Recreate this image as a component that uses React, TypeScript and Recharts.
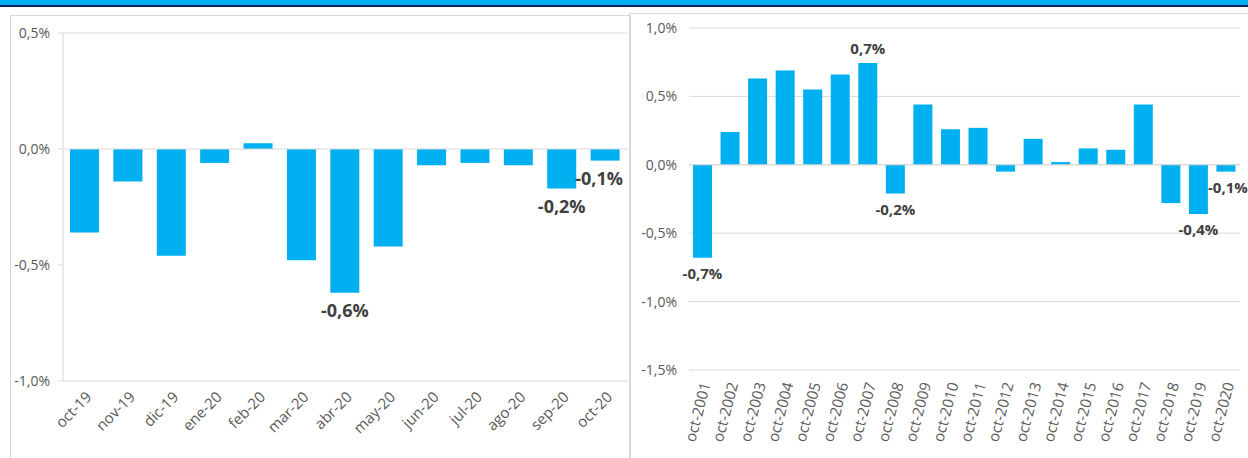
import React from 'react';
import { BarChart, Bar, XAxis, YAxis, CartesianGrid, ReferenceLine, LabelList } from 'recharts';

// Monthly variation, last 13 months
const monthCategories = ['oct-19', 'nov-19', 'dic-19', 'ene-20', 'feb-20', 'mar-20', 'abr-20', 'may-20', 'jun-20', 'jul-20', 'ago-20', 'sep-20', 'oct-20'];
const monthValues = [-0.36, -0.14, -0.46, -0.06, 0.025, -0.48, -0.62, -0.42, -0.07, -0.06, -0.07, -0.17, -0.05];
const monthLabels = ['', '', '', '', '', '', '-0,6%', '', '', '', '', '-0,2%', '-0,1%'];
const monthTicks = [-1, -0.5, 0, 0.5];

// October of each year
const yearCategories = ['oct-2001', 'oct-2002', 'oct-2003', 'oct-2004', 'oct-2005', 'oct-2006', 'oct-2007', 'oct-2008', 'oct-2009', 'oct-2010', 'oct-2011', 'oct-2012', 'oct-2013', 'oct-2014', 'oct-2015', 'oct-2016', 'oct-2017', 'oct-2018', 'oct-2019', 'oct-2020'];
const yearValues = [-0.68, 0.24, 0.63, 0.69, 0.55, 0.66, 0.745, -0.21, 0.44, 0.26, 0.27, -0.05, 0.19, 0.02, 0.12, 0.11, 0.44, -0.28, -0.36, -0.05];
const yearLabels = ['-0,7%', '', '', '', '', '', '0,7%', '-0,2%', '', '', '', '', '', '', '', '', '', '', '-0,4%', '-0,1%'];
const yearTicks = [-1.5, -1, -0.5, 0, 0.5, 1];

const monthData = monthCategories.map((c, i) => ({ cat: c, value: monthValues[i], label: monthLabels[i] }));
const yearData = yearCategories.map((c, i) => ({ cat: c, value: yearValues[i], label: yearLabels[i] }));

const BAR = '#00B0F0';
const GRID = '#d9d9d9';
const TEXT = '#595959';
const LABEL = '#404040';
const FONT = '"Open Sans", sans-serif';

const pct = (v: number) => v.toFixed(1).replace('.', ',') + '%';

const makeLabel = (fontSize: number, below: number, above: number, lastShift: number, lastIndex: number) => (props: any) => {
    const { x, y, width, height, index } = props;
    const text = props.value;
    if (!text) return null;
    const top = Math.min(y, y + height);
    const bottom = Math.max(y, y + height);
    const negative = text.startsWith('-');
    const cx = x + width / 2 + (index === lastIndex ? lastShift : 0);
    const cy = negative ? bottom + below : top - above;
    return (
        <text x={cx} y={cy} dy="0.35em" textAnchor="middle" fill={LABEL} fontSize={fontSize} fontWeight={700} fontFamily={FONT}>
            {text}
        </text>
    );
};

const MonthTick = (props: any) => {
    const { x, y, payload } = props;
    return (
        <g transform={`translate(${x + 8},${y + 17})`}>
            <text textAnchor="end" transform="rotate(-45)" fill={TEXT} fontSize={15} fontFamily={FONT}>{payload.value}</text>
        </g>
    );
};

const YearTick = (props: any) => {
    const { x, y, payload } = props;
    return (
        <g transform={`translate(${x + 8},${y + 14})`}>
            <text textAnchor="end" transform="rotate(-75)" fill={TEXT} fontSize={15} fontFamily={FONT}>{payload.value}</text>
        </g>
    );
};

const App: React.FC = () => {
    return (
        <div style={{ position: 'absolute', left: 0, top: 0, width: 1248, height: 458, overflow: 'hidden', background: '#fff', fontFamily: FONT }}>
            <div style={{ position: 'absolute', left: 0, top: 0, width: 1248, height: 5, background: '#00B0F0' }} />
            <div style={{ position: 'absolute', left: 0, top: 5, width: 1248, height: 2, background: '#002060' }} />

            <div style={{ position: 'absolute', left: 10, top: 15, width: 619, height: 460, border: `1px solid ${GRID}` }} />
            <div style={{ position: 'absolute', left: 629, top: 13, width: 640, height: 460, border: `1px solid ${GRID}` }} />

            <div style={{ position: 'absolute', left: 10, top: 15 }}>
                <BarChart width={620} height={443} data={monthData} margin={{ top: 18, right: 3, left: 0, bottom: 0 }} barSize={29}>
                    <ReferenceLine y={0.5} stroke={GRID} />
                    <ReferenceLine y={-1} stroke={GRID} />
                    <ReferenceLine y={0} stroke={GRID} />
                    <XAxis dataKey="cat" axisLine={false} tickLine={false} tickSize={0} tickMargin={0} height={77} interval={0} tick={<MonthTick />} />
                    <YAxis domain={[-1, 0.5]} ticks={monthTicks} tickFormatter={pct} width={53} axisLine={{ stroke: GRID }} tickLine={{ stroke: GRID }} tickSize={5} tickMargin={8} tick={{ fill: TEXT, fontSize: 14, fontFamily: FONT }} allowDataOverflow />
                    <Bar dataKey="value" fill={BAR} isAnimationActive={false}>
                        <LabelList dataKey="label" content={makeLabel(18, 18, 14, -6, 12)} />
                    </Bar>
                </BarChart>
            </div>

            <div style={{ position: 'absolute', left: 630, top: 13 }}>
                <BarChart width={618} height={445} data={yearData} margin={{ top: 15, right: 8, left: 0, bottom: 0 }} barSize={19}>
                    <CartesianGrid vertical={false} stroke={GRID} />
                    <ReferenceLine y={0} stroke={GRID} />
                    <XAxis dataKey="cat" axisLine={false} tickLine={false} tickSize={0} tickMargin={0} height={88} interval={0} tick={<YearTick />} />
                    <YAxis domain={[-1.5, 1]} ticks={yearTicks} tickFormatter={pct} width={59} axisLine={false} tickLine={false} tickSize={0} tickMargin={12} tick={{ fill: TEXT, fontSize: 14, fontFamily: FONT }} />
                    <Bar dataKey="value" fill={BAR} isAnimationActive={false}>
                        <LabelList dataKey="label" content={makeLabel(15, 16, 14, 2, 19)} />
                    </Bar>
                </BarChart>
            </div>
        </div>
    );
};

export default App;
